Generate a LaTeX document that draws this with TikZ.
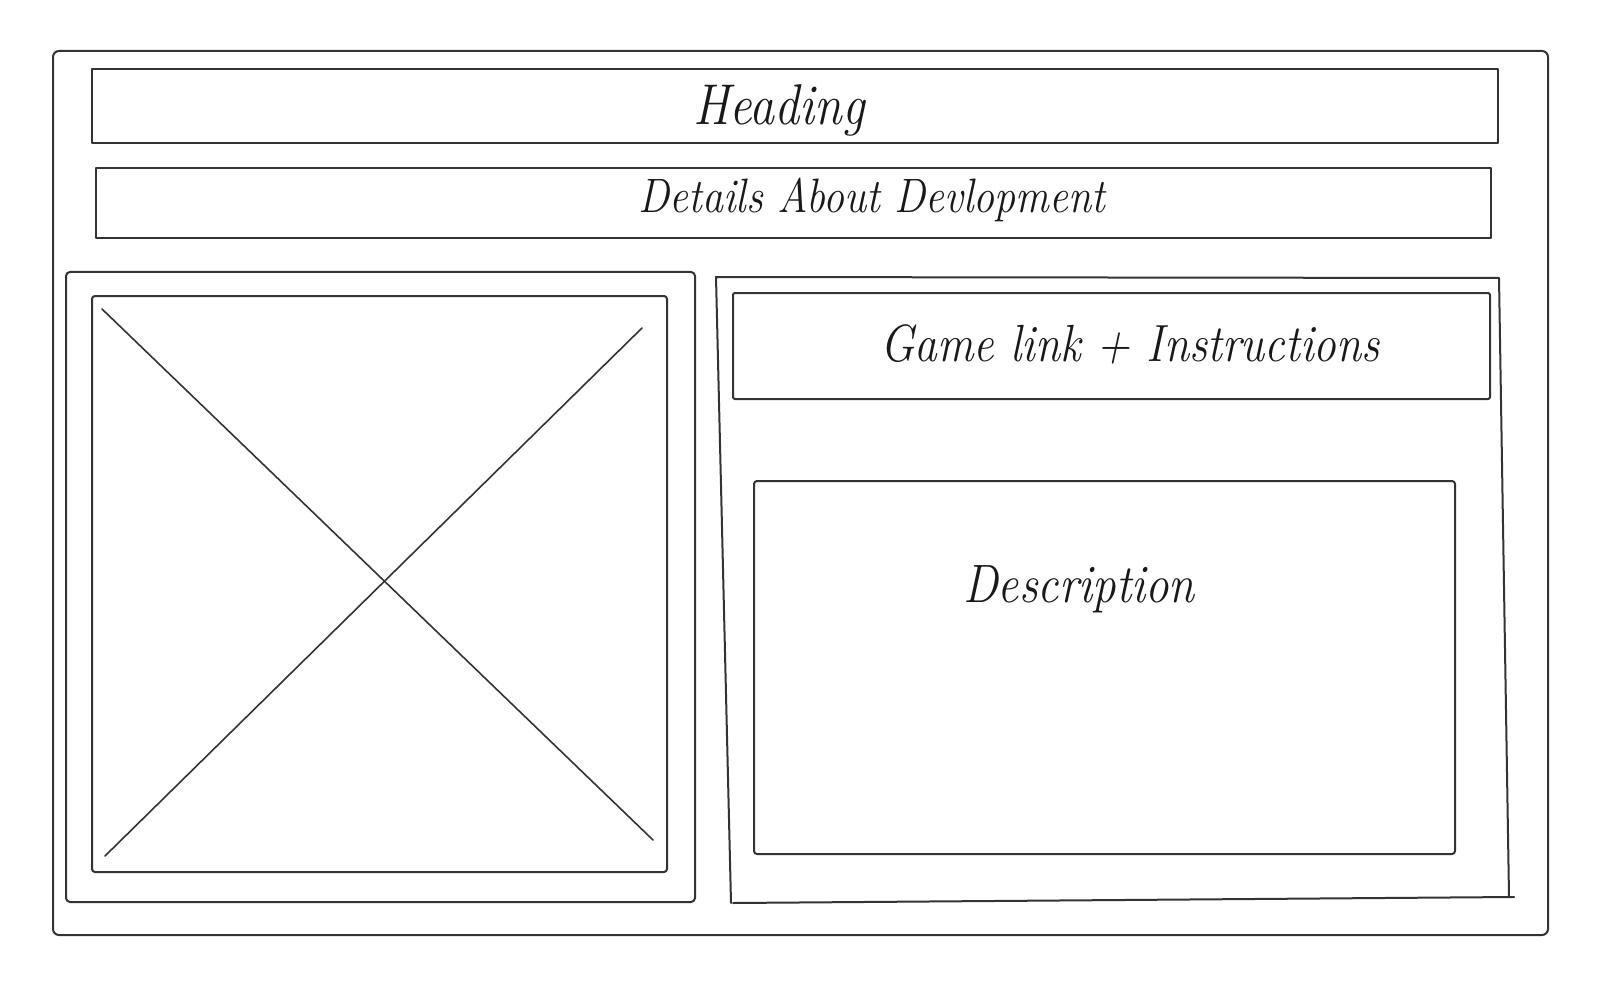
\documentclass[tikz,border=0pt]{standalone}
\usepackage{fontspec}
\begin{document}
\begin{tikzpicture}[x=1pt,y=-1pt,
  pen/.style={draw=black!80, line width=2pt, line join=round, line cap=round},
  hand/.style={font=\itshape, text=black!90, inner sep=0pt, anchor=center}]
\useasboundingbox[fill=white] (0,0) rectangle (1600,992);

% page frame
\draw[pen, rounded corners=6pt] (53,51) rectangle (1548,935);
% heading and details bars
\draw[pen] (92,69) rectangle (1498,143);
\draw[pen] (96,168) rectangle (1491,238);

% image panel with placeholder cross
\draw[pen, rounded corners=4pt] (66,272) rectangle (695,902);
\draw[pen, rounded corners=3pt] (92,296) rectangle (667,872);
\draw[pen, line width=1.6pt] (102,309) -- (653,840);
\draw[pen, line width=1.6pt] (642,328) -- (105,856);

% content panel (hand drawn, slightly skewed)
\draw[pen] (731,903) -- (716,277) -- (1499,278) -- (1509,897);
\draw[pen] (733,903) -- (1514,897);
\draw[pen, rounded corners=2pt] (733,293) rectangle (1490,399);
\draw[pen, rounded corners=3pt] (754,481) rectangle (1455,854);

% labels
\node[hand, font=\itshape\fontsize{50}{60}\selectfont, yscale=1.15] (heading) at (779,110) {Heading};
\node[hand, font=\itshape\fontsize{42}{50}\selectfont, yscale=1.15] (details) at (872,200) {Details About Devlopment};
\node[hand, font=\itshape\fontsize{45.5}{54}\selectfont, yscale=1.15] (gamelink) at (1130,344) {Game link + Instructions};
\node[hand, font=\itshape\fontsize{47}{56}\selectfont, yscale=1.15] (descr) at (1079,589) {Description};
\end{tikzpicture}
\end{document}
